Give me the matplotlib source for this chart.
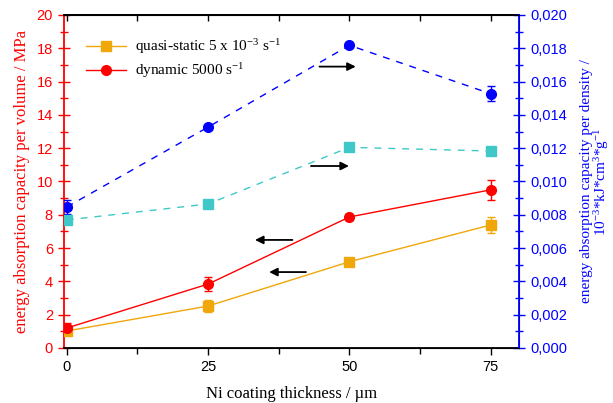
import matplotlib.pyplot as plt
from matplotlib.lines import Line2D
from matplotlib.ticker import FuncFormatter, MultipleLocator

plt.rcParams['mathtext.default'] = 'regular'

# data
thickness = [0, 25, 50, 75]
quasi_vol = [1.02, 2.52, 5.18, 7.39]
quasi_vol_err = [0.2, 0.35, 0.12, 0.5]
dyn_vol = [1.2, 3.84, 7.87, 9.5]
dyn_vol_err = [0.3, 0.4, 0.2, 0.6]
dyn_dens = [0.00847, 0.01327, 0.01818, 0.01527]
dyn_dens_err = [0.0004, 0.0001, 0.0001, 0.00045]
quasi_dens = [0.00769, 0.00865, 0.01205, 0.01183]
quasi_dens_err = [0.0001, 0.0001, 0.0001, 0.0001]

ORANGE = '#EFA70A'
RED = '#FF0000'
BLUE = '#0000FF'
CYAN = '#40C8C8'
SERIF = 'Liberation Serif'
SANS = 'Liberation Sans'

fig = plt.figure(figsize=(6.13, 4.03), dpi=100)
ax = fig.add_axes([0.1044, 0.1365, 0.7423, 0.8263])
ax2 = ax.twinx()

ax.errorbar(thickness, quasi_vol, yerr=quasi_vol_err, color=ORANGE, marker='s', ms=6.5,
            lw=1, capsize=3, elinewidth=1, zorder=3)
ax.errorbar(thickness, dyn_vol, yerr=dyn_vol_err, color=RED, marker='o', ms=7,
            lw=1, capsize=3, elinewidth=1, zorder=3)
ax2.errorbar(thickness, dyn_dens, yerr=dyn_dens_err, color=BLUE, marker='o', ms=7,
             lw=1, ls=(0, (5, 5)), capsize=3, elinewidth=1)
ax2.errorbar(thickness, quasi_dens, yerr=quasi_dens_err, color=CYAN, marker='s', ms=6.5,
             lw=1, ls=(0, (5, 5)), capsize=3, elinewidth=1)

# arrows pointing at the matching axis
arrow = dict(arrowstyle='-|>', color='black', lw=1.3, mutation_scale=12)
ax2.annotate('', xy=(51.6, 0.0169), xytext=(44.2, 0.0169), arrowprops=arrow)
ax2.annotate('', xy=(50.4, 0.01093), xytext=(42.7, 0.01093), arrowprops=arrow)
ax.annotate('', xy=(32.8, 6.49), xytext=(40.4, 6.49), arrowprops=arrow)
ax.annotate('', xy=(35.3, 4.56), xytext=(42.8, 4.56), arrowprops=arrow)

ax.set_xlim(-0.5, 80)
ax.set_ylim(0, 20)
ax2.set_ylim(0, 0.02)

ax.xaxis.set_major_locator(MultipleLocator(25))
ax.xaxis.set_minor_locator(MultipleLocator(12.5))
ax.yaxis.set_major_locator(MultipleLocator(2))
ax.yaxis.set_minor_locator(MultipleLocator(1))
ax2.yaxis.set_major_locator(MultipleLocator(0.002))
ax2.yaxis.set_minor_locator(MultipleLocator(0.001))
ax2.yaxis.set_major_formatter(FuncFormatter(lambda v, p: f'{v:.3f}'.replace('.', ',')))

# top ticks point inwards, bottom ticks outwards
top = ax.secondary_xaxis('top')
top.xaxis.set_major_locator(MultipleLocator(12.5))
top.tick_params(direction='in', length=4, width=1, labeltop=False)

ax.tick_params(axis='x', which='major', direction='out', length=5, width=1, labelsize=10.5)
ax.tick_params(axis='x', which='minor', direction='out', length=4, width=1)
ax.tick_params(axis='y', which='major', direction='inout', length=9, width=1,
               colors=RED, labelsize=10.5)
ax.tick_params(axis='y', which='minor', direction='inout', length=6, width=1, colors=RED)
ax2.tick_params(axis='y', which='major', direction='inout', length=9, width=1,
                colors=BLUE, labelsize=10.5)
ax2.tick_params(axis='y', which='minor', direction='inout', length=6, width=1, colors=BLUE)
for t in ax.get_xticklabels() + ax.get_yticklabels() + ax2.get_yticklabels():
    t.set_fontfamily(SANS)

ax.spines['left'].set_color(RED)
ax.spines['left'].set_linewidth(1.3)
ax2.spines['right'].set_color(BLUE)
ax2.spines['right'].set_linewidth(1.3)
ax2.spines['left'].set_visible(False)
for s in ['top', 'bottom']:
    ax.spines[s].set_linewidth(1.3)
top.spines['top'].set_linewidth(1.3)

ax.set_xlabel('Ni coating thickness / µm', fontfamily=SERIF, fontsize=12, labelpad=9)
ax.set_ylabel('energy absorption capacity per volume / MPa', fontfamily=SERIF,
              fontsize=12, color=RED, labelpad=5)
ax2.set_ylabel('energy absorption capacity per density /\n10$^{-3}$*kJ*cm$^{3}$*g$^{-1}$',
               fontfamily=SERIF, fontsize=11, color=BLUE, linespacing=0.9)
ax2.yaxis.set_label_coords(1.134, 0.5)

handles = [
    Line2D([], [], color=ORANGE, marker='s', ms=6.5, lw=1),
    Line2D([], [], color=RED, marker='o', ms=7, lw=1),
]
labels = ['quasi-static 5 x 10$^{-3}$ s$^{-1}$', 'dynamic 5000 s$^{-1}$']
ax.legend(handles, labels, loc='upper left', bbox_to_anchor=(0.025, 0.965), frameon=False,
          prop={'family': SERIF, 'size': 11}, handlelength=2.6, handletextpad=0.6,
          borderaxespad=0.3, labelspacing=0.35)

fig.savefig('out.png', dpi=100)
